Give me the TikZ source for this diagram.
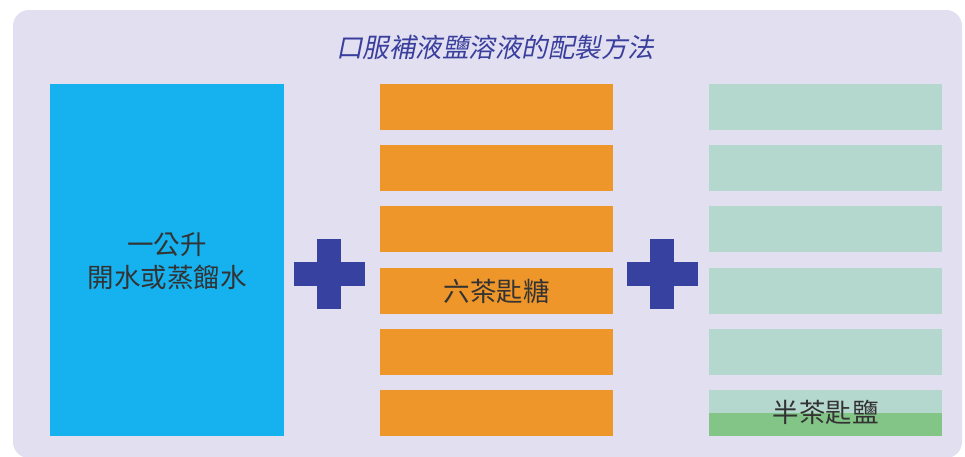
\documentclass[tikz,border=0pt]{standalone}
\usepackage{fontspec}
\setmainfont{Noto Sans CJK TC}
\newfontfamily\cjk{Noto Sans CJK TC}
\newfontfamily\cjkslant{Noto Sans CJK TC}[FakeSlant=0.2]
\definecolor{bgpanel}{HTML}{E1DFF0}
\definecolor{waterblue}{HTML}{15B2EF}
\definecolor{sugarorange}{HTML}{EE9629}
\definecolor{saltlight}{HTML}{B5D8CE}
\definecolor{saltgreen}{HTML}{83C487}
\definecolor{plusblue}{HTML}{3641A0}
\definecolor{titleblue}{HTML}{3A3F9E}
\definecolor{txtgray}{HTML}{333333}
\tikzset{
  barbox/.style={fill=#1, draw=none},
  lbl/.style={font=\cjk\fontsize{26.5}{33}\selectfont, text=txtgray, align=center, inner sep=0pt},
  plusarm/.style={fill=plusblue, draw=none}
}
\begin{document}
\begin{tikzpicture}[x=1pt,y=-1pt]
\useasboundingbox (0,0) rectangle (965,456);
\fill[bgpanel, rounded corners=16pt] (13,10) rectangle (962,458);
\node[font=\cjkslant\fontsize{26.5}{30}\selectfont, text=titleblue, inner sep=0pt] (title) at (495,47) {口服補液鹽溶液的配製方法};
% water
\fill[waterblue] (50,84) rectangle (284,436);
\node[lbl] (water) at (167,261) {一公升\\開水或蒸餾水};
% sugar bars
\foreach \i in {0,...,5}{
  \fill[sugarorange] (380,{84+61.2*\i}) rectangle (613,{130+61.2*\i});
}
\node[lbl] (sugar) at (496.5,291) {六茶匙糖};
% salt bars
\foreach \i in {0,...,4}{
  \fill[saltlight] (709,{84+61.2*\i}) rectangle (942,{130+61.2*\i});
}
\fill[saltlight] (709,390) rectangle (942,413);
\fill[saltgreen] (709,413) rectangle (942,436);
\node[lbl] (salt) at (825.5,412) {半茶匙鹽};
% plus signs
\foreach \cx in {329,662}{
  \fill[plusarm] ({\cx-35.5},262) rectangle ({\cx+35.5},286);
  \fill[plusarm] ({\cx-12},239) rectangle ({\cx+12},309);
}
\end{tikzpicture}
\end{document}
